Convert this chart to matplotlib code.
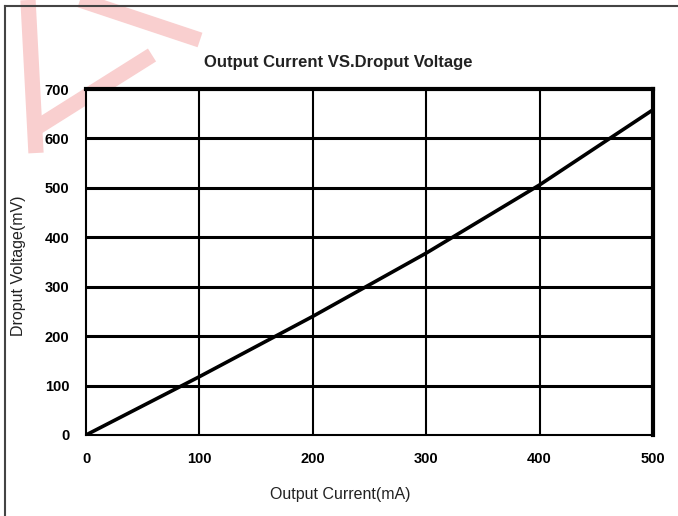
import matplotlib
matplotlib.use("Agg")
import matplotlib.pyplot as plt
from matplotlib.lines import Line2D

plt.rcParams["font.family"] = ["Liberation Sans Narrow", "Liberation Sans", "DejaVu Sans"]

# data
current_ma = [0, 100, 200, 300, 400, 500]
dropout_mv = [0, 118, 240, 368, 506, 658]
x_ticks = [0, 100, 200, 300, 400, 500]
y_ticks = [0, 100, 200, 300, 400, 500, 600, 700]

fig = plt.figure(figsize=(6.78, 5.16), dpi=100)
ax = fig.add_axes([86 / 678, 81 / 516, 567 / 678, 346 / 516])

# pale red watermark in the corner
wm = dict(color="#f9cfcf", lw=11, solid_capstyle="butt", transform=fig.transFigure, zorder=0)
for xs, ys in [([28 / 678, 36 / 678], [1.0, 1 - 153 / 516]),
               ([36 / 678, 152 / 678], [1 - 128 / 516, 1 - 55 / 516]),
               ([80 / 678, 200 / 678], [1.0, 1 - 40 / 516])]:
    fig.add_artist(Line2D(xs, ys, **wm))

# outer frame (top and left edges visible)
frame = dict(color="#444444", lw=1.5, transform=fig.transFigure)
fig.add_artist(Line2D([5 / 678, 1.0], [1 - 6 / 516, 1 - 6 / 516], **frame))
fig.add_artist(Line2D([5 / 678, 5 / 678], [0.0, 1 - 6 / 516], **frame))

ax.plot(current_ma, dropout_mv, color="black", lw=2.6, zorder=3)

ax.set_xlim(0, 500)
ax.set_ylim(0, 700)
ax.set_xticks(x_ticks)
ax.set_yticks(y_ticks)
ax.tick_params(length=0, labelsize=10.5, pad=12)
for lab in ax.get_xticklabels() + ax.get_yticklabels():
    lab.set_fontweight("bold")
ax.tick_params(axis="y", pad=12)

for v in y_ticks[1:-1]:
    ax.axhline(v, color="black", lw=2.2, zorder=2)
for v in x_ticks[1:-1]:
    ax.axvline(v, color="black", lw=1.5, zorder=2)

for side in ["top", "right"]:
    ax.spines[side].set_linewidth(3)
for side in ["left", "bottom"]:
    ax.spines[side].set_linewidth(1.5)

fig.text(338 / 678, 1 - 62 / 516, "Output Current VS.Droput Voltage",
         ha="center", va="center", fontsize=12, fontweight="bold", color="#222222")
fig.text(340 / 678, 1 - 495 / 516, "Output Current(mA)",
         ha="center", va="center", fontsize=11.5, color="#222222")
fig.text(19 / 678, 1 - 266 / 516, "Droput Voltage(mV)", rotation=90,
         ha="center", va="center", fontsize=11.5, color="#222222")

fig.savefig("out.png", dpi=100)
